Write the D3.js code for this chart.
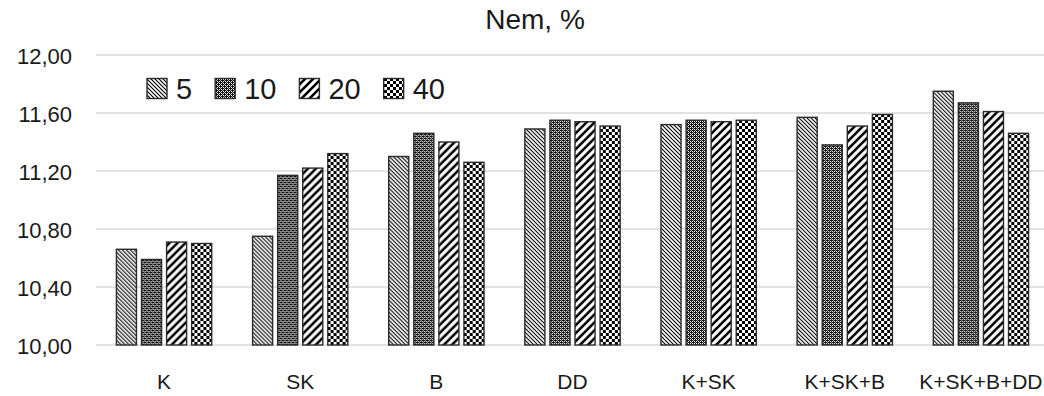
<!DOCTYPE html>
<html>
<head>
<meta charset="utf-8">
<script src="https://cdn.jsdelivr.net/npm/d3@7"></script>
<style>
  html, body { margin: 0; padding: 0; background: #fff; }
  svg { display: block; font-family: "Liberation Sans", Arial, sans-serif; }
</style>
</head>
<body>
<div id="chart"></div>
<script>
// chart data
const categories = ["K", "SK", "B", "DD", "K+SK", "K+SK+B", "K+SK+B+DD"];
const seriesNames = ["5", "10", "20", "40"];
const values5 = [10.66, 10.75, 11.30, 11.49, 11.52, 11.57, 11.75];
const values10 = [10.59, 11.17, 11.46, 11.55, 11.55, 11.38, 11.67];
const values20 = [10.71, 11.22, 11.40, 11.54, 11.54, 11.51, 11.61];
const values40 = [10.70, 11.32, 11.26, 11.51, 11.55, 11.59, 11.46];
const yTicks = [10.0, 10.4, 10.8, 11.2, 11.6, 12.0];
const chartTitle = "Nem, %";

const seriesValues = [values5, values10, values20, values40];

const width = 1044, height = 396;
const margin = { top: 55, right: -5, bottom: 51, left: 96 };

const svg = d3.select("#chart").append("svg")
  .attr("width", width)
  .attr("height", height);

// fill patterns, one per series
const defs = svg.append("defs");

// 5: thin downward diagonal
const p5 = defs.append("pattern").attr("id", "pat0")
  .attr("patternUnits", "userSpaceOnUse").attr("width", 4).attr("height", 4);
p5.append("rect").attr("width", 4).attr("height", 4).attr("fill", "#fff");
p5.append("path").attr("d", "M-1,-1 L5,5 M-1,3 L1,5 M3,-1 L5,1")
  .attr("stroke", "#000").attr("stroke-width", 1.1);

// 10: dotted grey grid
const p10 = defs.append("pattern").attr("id", "pat1")
  .attr("patternUnits", "userSpaceOnUse").attr("width", 4).attr("height", 4);
p10.append("rect").attr("width", 4).attr("height", 4).attr("fill", "#111");
[[1, 1], [3, 3], [3, 1], [1, 3]].forEach(([x, y]) =>
  p10.append("rect").attr("x", x).attr("y", y).attr("width", 1).attr("height", 1).attr("fill", "#fff"));
[[0, 0], [2, 2]].forEach(([x, y]) =>
  p10.append("rect").attr("x", x).attr("y", y).attr("width", 1).attr("height", 1).attr("fill", "#aaa"));

// 20: wide upward diagonal
const p20 = defs.append("pattern").attr("id", "pat2")
  .attr("patternUnits", "userSpaceOnUse").attr("width", 8).attr("height", 8);
p20.append("rect").attr("width", 8).attr("height", 8).attr("fill", "#fff");
p20.append("path").attr("d", "M-2,10 L10,-2 M-2,2 L2,-2 M6,10 L10,6")
  .attr("stroke", "#000").attr("stroke-width", 2.6);

// 40: checkerboard
const p40 = defs.append("pattern").attr("id", "pat3")
  .attr("patternUnits", "userSpaceOnUse").attr("width", 6).attr("height", 6);
p40.append("rect").attr("width", 6).attr("height", 6).attr("fill", "#fff");
p40.append("rect").attr("x", 0).attr("y", 0).attr("width", 3).attr("height", 3).attr("fill", "#000");
p40.append("rect").attr("x", 3).attr("y", 3).attr("width", 3).attr("height", 3).attr("fill", "#000");

// scales
const x0 = d3.scaleBand()
  .domain(categories)
  .range([margin.left, width - margin.right])
  .paddingInner(0.3)
  .paddingOuter(0.15);

const x1 = d3.scaleBand()
  .domain(d3.range(seriesNames.length))
  .range([0, x0.bandwidth()])
  .paddingInner(0.2);

const y = d3.scaleLinear()
  .domain([10, 12])
  .range([height - margin.bottom, margin.top]);

const locale = d3.formatLocale({ decimal: ",", thousands: ".", grouping: [3], currency: ["", ""] });
const fmt = locale.format(".2f");

// gridlines
svg.append("g")
  .selectAll("line")
  .data(yTicks)
  .join("line")
  .attr("x1", margin.left)
  .attr("x2", width)
  .attr("y1", d => y(d))
  .attr("y2", d => y(d))
  .attr("stroke", "#d9d9d9")
  .attr("stroke-width", 1.5);

// y tick labels
svg.append("g")
  .selectAll("text")
  .data(yTicks)
  .join("text")
  .attr("x", 72)
  .attr("y", d => y(d) + 1)
  .attr("text-anchor", "end")
  .attr("dominant-baseline", "central")
  .style("font-size", "22px")
  .style("fill", "#1a1a1a")
  .text(d => fmt(d));

// bars
const groups = svg.append("g")
  .selectAll("g")
  .data(categories)
  .join("g")
  .attr("transform", d => `translate(${x0(d)},0)`);

groups.selectAll("rect")
  .data((c, ci) => seriesValues.map((vals, si) => ({ si, v: vals[ci] })))
  .join("rect")
  .attr("x", d => x1(d.si))
  .attr("y", d => y(d.v))
  .attr("width", x1.bandwidth())
  .attr("height", d => y(10) - y(d.v))
  .attr("fill", d => `url(#pat${d.si})`)
  .attr("stroke", "#2b2b2b")
  .attr("stroke-width", 1.4);

// category labels
svg.append("g")
  .selectAll("text")
  .data(categories)
  .join("text")
  .attr("x", d => x0(d) + x0.bandwidth() / 2)
  .attr("y", 389)
  .attr("text-anchor", "middle")
  .style("font-size", "21px")
  .style("fill", "#1a1a1a")
  .text(d => d);

// title
svg.append("text")
  .attr("x", 535)
  .attr("y", 29)
  .attr("text-anchor", "middle")
  .style("font-size", "28px")
  .style("fill", "#1a1a1a")
  .text(chartTitle);

// legend
const legend = svg.append("g");
let lx = 147;
seriesNames.forEach((name, i) => {
  legend.append("rect")
    .attr("x", lx)
    .attr("y", 78.5)
    .attr("width", 20)
    .attr("height", 20)
    .attr("fill", `url(#pat${i})`)
    .attr("stroke", "#2b2b2b")
    .attr("stroke-width", 1.4);
  const t = legend.append("text")
    .attr("x", lx + 29)
    .attr("y", 99)
    .style("font-size", "29px")
    .style("fill", "#1a1a1a")
    .text(name);
  lx += 29 + t.node().getComputedTextLength() + 23;
});
</script>
</body>
</html>
